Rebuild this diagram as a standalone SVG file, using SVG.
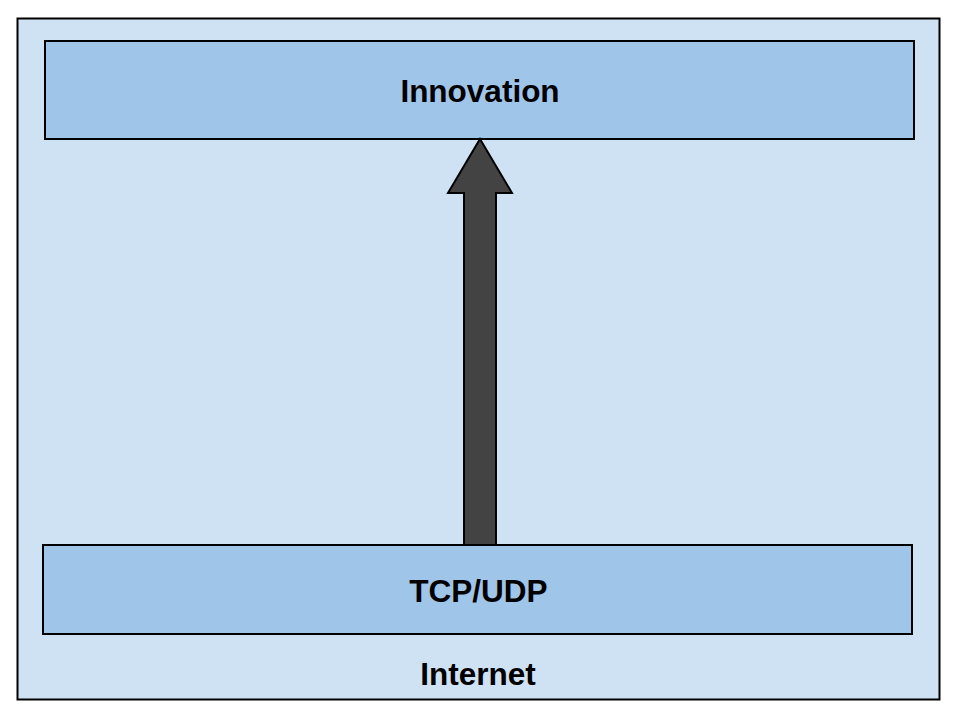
<svg xmlns="http://www.w3.org/2000/svg" width="960" height="720" viewBox="0 0 960 720">
<style>
.box{stroke:#000;stroke-width:2}
.lbl{font-family:"Liberation Sans",Arial,sans-serif;font-weight:bold;font-size:31.5px;fill:#000;text-anchor:middle}
</style>
<rect width="960" height="720" fill="#fff"/>
<g id="internet">
<rect class="box" x="17.5" y="18.5" width="922" height="681" fill="#cfe2f3"/>
<text class="lbl" x="478" y="685">Internet</text>
</g>
<g id="innovation">
<rect class="box" x="45" y="41" width="869" height="98" fill="#9fc5e8"/>
<text class="lbl" x="480" y="102">Innovation</text>
</g>
<g id="tcpudp">
<rect class="box" x="43" y="545" width="869" height="89" fill="#9fc5e8"/>
<text class="lbl" x="478.5" y="602">TCP/UDP</text>
</g>
<g id="connectors">
<polygon points="480,139 512,193 496,193 496,545 464,545 464,193 448,193" fill="#434343" stroke="#000" stroke-width="2" stroke-linejoin="miter"/>
</g>
</svg>
